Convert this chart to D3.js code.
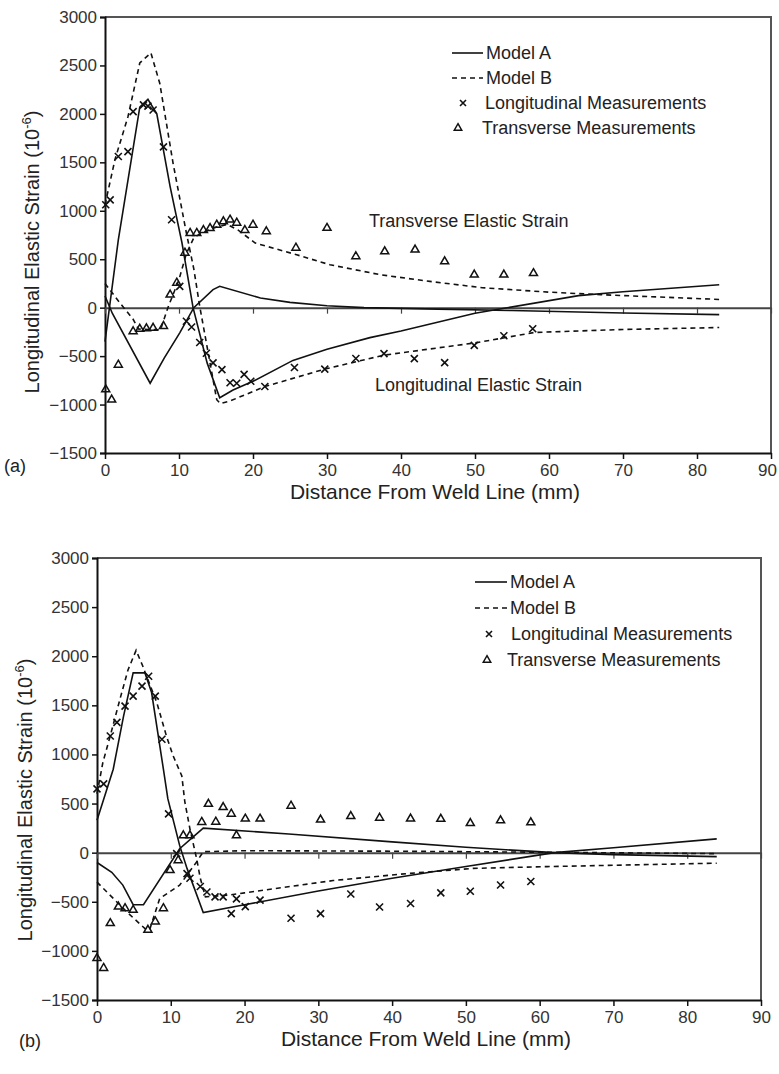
<!DOCTYPE html>
<html>
<head>
<meta charset="utf-8">
<script src="https://cdn.jsdelivr.net/npm/d3@7"></script>
<style>
  body { margin: 0; background: #fff; }
  text { font-family: "Liberation Sans", Arial, sans-serif; }
</style>
</head>
<body>
<svg id="chart" width="779" height="1074"></svg>
<script>
// axis ticks
var xTicks = [0, 10, 20, 30, 40, 50, 60, 70, 80, 90];
var yTicks = [-1500, -1000, -500, 0, 500, 1000, 1500, 2000, 2500, 3000];

// ---- panel (a) ----
var aModelALong = [[0,-350],[1.8,700],[4.7,2070],[5.8,2150],[7,2000],[8.8,1250],[10.4,670],[11.9,0],[13.8,-570],[15.5,-930],[17.3,-850],[20,-760],[25.4,-544],[30,-430],[35.8,-309],[40,-240],[50,-57],[64,124],[70,165],[83,237]];
var aModelBLong = [[0,1060],[1.35,1530],[3.1,1970],[4.7,2525],[6.2,2630],[7.4,2316],[9.2,1490],[11,770],[12,400],[12.8,14],[15.1,-950],[15.6,-990],[17,-960],[21.6,-814],[29.7,-634],[37.7,-490],[50,-364],[58,-256],[70,-225],[83,-205]];
var aModelATrans = [[0,120],[1,-60],[6.1,-780],[8,-520],[10.1,-260],[12,0],[14.6,186],[15.5,220],[21,100],[25,55],[30,20],[35,0],[45,-15],[55,-30],[70,-55],[83,-72]];
var aModelBTrans = [[0,250],[2,50],[3.8,-120],[4.5,-220],[7.5,-230],[8.5,0],[10,290],[11,560],[12,720],[13,770],[15,830],[16.5,860],[18,800],[20.3,667],[25.9,546],[30.4,443],[37.2,340],[43.9,271],[51,206],[60,160],[67,134],[83,85]];
var aLongMeas = [[0.1,1062],[0.7,1113],[1.8,1560],[3.1,1610],[3.8,2023],[5.2,2093],[5.8,2080],[6.5,2040],[7.9,1660],[9,907],[10.1,220],[11,-140],[11.7,-200],[12.8,-360],[13.7,-470],[14.6,-570],[15.8,-640],[16.9,-775],[17.8,-780],[18.8,-688],[19.7,-760],[21.6,-814],[25.6,-617],[29.7,-634],[33.9,-525],[37.7,-475],[41.8,-526],[45.9,-567],[49.9,-389],[53.9,-290],[57.8,-217]];
var aTransMeas = [[0.1,-845],[0.9,-950],[1.8,-590],[3.8,-245],[4.7,-220],[5.6,-215],[6.5,-210],[7.9,-190],[8.8,134],[9.7,256],[10.8,566],[11.5,770],[12.4,770],[13.3,800],[14.2,820],[15.1,855],[16,890],[16.9,907],[17.8,875],[18.9,800],[20,855],[21.8,787],[25.8,617],[30,822],[33.9,529],[37.8,580],[41.9,598],[45.9,477],[49.9,340],[53.9,340],[57.9,355]];

// ---- panel (b) ----
var bModelALong = [[0,330],[2.2,850],[3.6,1390],[4.9,1830],[6.5,1830],[7.4,1630],[9,850],[9.6,550],[11.2,74],[12.2,-160],[14.4,-610],[20,-530],[30,-390],[40,-260],[50,-140],[62,0],[70,50],[84,140]];
var bModelBLong = [[0,600],[0.8,920],[1.8,1190],[3.1,1560],[4.2,1860],[5.3,2060],[6.2,1900],[6.7,1800],[8.1,1530],[9.4,1190],[10.3,990],[11.5,780],[11.9,520],[12.6,240],[13.5,-60],[14,-260],[14.7,-450],[18,-430],[20,-409],[32,-284],[42,-213],[51,-160],[61,-142],[84,-107]];
var bModelATrans = [[0,-100],[2,-200],[3.5,-330],[4.9,-530],[6.3,-530],[11.2,40],[14.4,250],[26,190],[40,110],[50,55],[62,0],[70,-20],[84,-40]];
var bModelBTrans = [[0,-300],[2,-450],[4,-600],[6.7,-787],[7.2,-770],[8.5,-466],[11.2,-331],[13.5,-95],[14.4,10],[20,20],[40,15],[60,5],[84,-10]];
var bLongMeas = [[0,650],[0.9,700],[1.8,1188],[2.7,1327],[3.8,1492],[4.9,1594],[6.1,1695],[7,1796],[7.9,1594],[8.8,1155],[9.7,395],[10.8,-10],[12.2,-213],[12.6,-260],[14,-345],[14.9,-400],[16,-450],[17.1,-450],[18.2,-620],[18.9,-470],[20.1,-550],[22.1,-483],[26.3,-668],[30.3,-620],[34.4,-421],[38.3,-553],[42.5,-517],[46.6,-410],[50.6,-393],[54.7,-329],[58.8,-294]];
var bTransMeas = [[0,-1074],[0.9,-1175],[1.8,-719],[2.9,-550],[3.8,-567],[4.9,-584],[6.9,-787],[7.9,-702],[9,-567],[9.9,-179],[11,-78],[11.7,175],[12.6,175],[14.2,311],[15.1,496],[16.1,314],[17.1,463],[18.2,395],[18.9,175],[20.1,345],[22.1,345],[26.3,477],[30.3,335],[34.4,371],[38.3,354],[42.5,346],[46.6,343],[50.6,300],[54.7,328],[58.8,307]];

var legendItems = ["Model A", "Model B", "Longitudinal Measurements", "Transverse Measurements"];

var svg = d3.select("#chart");

function drawPanel(p) {
  var x = d3.scaleLinear().domain([0, 90]).range([p.left, p.right]);
  var y = d3.scaleLinear().domain([-1500, 3000]).range([p.bottom, p.top]);
  var g = svg.append("g");

  // frame: top and right border
  g.append("path")
    .attr("d", "M" + p.left + "," + p.top + "H" + p.right + "V" + p.bottom)
    .attr("fill", "none").attr("stroke", "#555").attr("stroke-width", 2);

  // left axis
  var ya = g.append("g").attr("transform", "translate(" + p.left + ",0)")
    .call(d3.axisLeft(y).tickValues(yTicks).tickSize(5).tickPadding(3).tickFormat(d3.format("d")));
  ya.select(".domain").attr("stroke", "#111").attr("stroke-width", 2);
  ya.selectAll(".tick line").attr("stroke", "#111").attr("stroke-width", 1.5);
  ya.selectAll("text").attr("font-size", 17).attr("fill", "#333")
    .attr("font-family", "Liberation Sans, Arial, sans-serif");

  // bottom axis
  var xa = g.append("g").attr("transform", "translate(0," + p.bottom + ")")
    .call(d3.axisBottom(x).tickValues(xTicks).tickSize(6).tickPadding(5).tickSizeOuter(0));
  xa.select(".domain").attr("stroke", "#111").attr("stroke-width", 2);
  xa.selectAll(".tick line").attr("stroke", "#111").attr("stroke-width", 1.5);
  xa.selectAll("text").attr("font-size", 17).attr("fill", "#333")
    .attr("font-family", "Liberation Sans, Arial, sans-serif")
    .attr("dx", function (d) { return d === 90 ? p.lastDx : 0; });

  // zero line with ticks
  var za = g.append("g").attr("transform", "translate(0," + y(0) + ")")
    .call(d3.axisBottom(x).tickValues(xTicks).tickSize(6).tickSizeOuter(0).tickFormat(""));
  za.select(".domain").attr("stroke", "#444").attr("stroke-width", 2);
  za.selectAll(".tick line").attr("stroke", "#444").attr("stroke-width", 1.2);

  var line = d3.line().x(function (d) { return x(d[0]); }).y(function (d) { return y(d[1]); });

  [p.aLong, p.aTrans].forEach(function (s) {
    g.append("path").datum(s).attr("d", line)
      .attr("fill", "none").attr("stroke", "#111").attr("stroke-width", 1.6);
  });
  [p.bLong, p.bTrans].forEach(function (s) {
    g.append("path").datum(s).attr("d", line)
      .attr("fill", "none").attr("stroke", "#111").attr("stroke-width", 1.6)
      .attr("stroke-dasharray", "5,4");
  });

  // transverse measurements (open triangles)
  g.selectAll(".tri").data(p.trans).enter().append("path")
    .attr("d", d3.symbol().type(d3.symbolTriangle).size(28))
    .attr("transform", function (d) { return "translate(" + x(d[0]) + "," + y(d[1]) + ")"; })
    .attr("fill", "none").attr("stroke", "#111").attr("stroke-width", 1.5);

  // longitudinal measurements (x)
  g.selectAll(".cross").data(p.long).enter().append("path")
    .attr("d", "M-3.5,-3.5L3.5,3.5M-3.5,3.5L3.5,-3.5")
    .attr("transform", function (d) { return "translate(" + x(d[0]) + "," + y(d[1]) + ")"; })
    .attr("fill", "none").attr("stroke", "#111").attr("stroke-width", 1.6);

  // legend
  var L = p.legend;
  legendItems.forEach(function (t, i) {
    var yy = L.y + i * L.dy;
    if (i === 0) g.append("line").attr("x1", L.lx0).attr("x2", L.lx1).attr("y1", yy).attr("y2", yy)
      .attr("stroke", "#111").attr("stroke-width", 1.6);
    if (i === 1) g.append("line").attr("x1", L.lx0).attr("x2", L.lx1).attr("y1", yy).attr("y2", yy)
      .attr("stroke", "#111").attr("stroke-width", 1.6).attr("stroke-dasharray", "5,4");
    if (i === 2) g.append("path").attr("d", "M-3,-3L3,3M-3,3L3,-3")
      .attr("transform", "translate(" + L.cx + "," + yy + ")")
      .attr("stroke", "#111").attr("stroke-width", 1.6);
    if (i === 3) g.append("path").attr("d", d3.symbol().type(d3.symbolTriangle).size(24))
      .attr("transform", "translate(" + L.tx + "," + yy + ")")
      .attr("fill", "none").attr("stroke", "#111").attr("stroke-width", 1.5);
    g.append("text").attr("x", L.textX[i]).attr("y", yy).attr("dy", "0.35em")
      .attr("font-size", 18).attr("fill", "#222").text(t);
  });

  // axis titles
  g.append("text").attr("x", (p.left + p.right) / 2 - 3).attr("y", p.bottom + 46)
    .attr("text-anchor", "middle").attr("font-size", 21).attr("fill", "#222")
    .text("Distance From Weld Line (mm)");
  var yt = g.append("text")
    .attr("transform", "translate(" + p.yTitleX + "," + p.yTitleY + ") rotate(-90)")
    .attr("text-anchor", "middle").attr("font-size", 20).attr("fill", "#222");
  yt.append("tspan").text("Longitudinal Elastic Strain (10");
  yt.append("tspan").attr("font-size", 13).attr("dy", -8).text("-6");
  yt.append("tspan").attr("dy", 8).text(")");

  g.append("text").attr("x", p.tagX).attr("y", p.tagY).attr("dy", "0.35em")
    .attr("text-anchor", "middle").attr("font-size", 18).attr("fill", "#222").text(p.tag);

  (p.notes || []).forEach(function (n) {
    g.append("text").attr("x", n.x).attr("y", n.y).attr("dy", "0.35em")
      .attr("font-size", 18).attr("fill", "#222").text(n.t);
  });
}

drawPanel({
  left: 105, right: 771, top: 17, bottom: 453, lastDx: -4,
  aLong: aModelALong, bLong: aModelBLong, aTrans: aModelATrans, bTrans: aModelBTrans,
  long: aLongMeas, trans: aTransMeas,
  legend: { y: 53, dy: 25, lx0: 452, lx1: 483, cx: 463, tx: 458, textX: [486, 486, 485, 482] },
  yTitleX: 39, yTitleY: 252, tag: "(a)", tagX: 15, tagY: 466,
  notes: [{ x: 369, y: 221, t: "Transverse Elastic Strain" }, { x: 375, y: 385, t: "Longitudinal Elastic Strain" }]
});

drawPanel({
  left: 97, right: 761, top: 558, bottom: 1000, lastDx: 0,
  aLong: bModelALong, bLong: bModelBLong, aTrans: bModelATrans, bTrans: bModelBTrans,
  long: bLongMeas, trans: bTransMeas,
  legend: { y: 582, dy: 26, lx0: 475, lx1: 507, cx: 489, tx: 487, textX: [510, 510, 511, 507] },
  yTitleX: 32, yTitleY: 800, tag: "(b)", tagX: 30, tagY: 1041
});
</script>
</body>
</html>
